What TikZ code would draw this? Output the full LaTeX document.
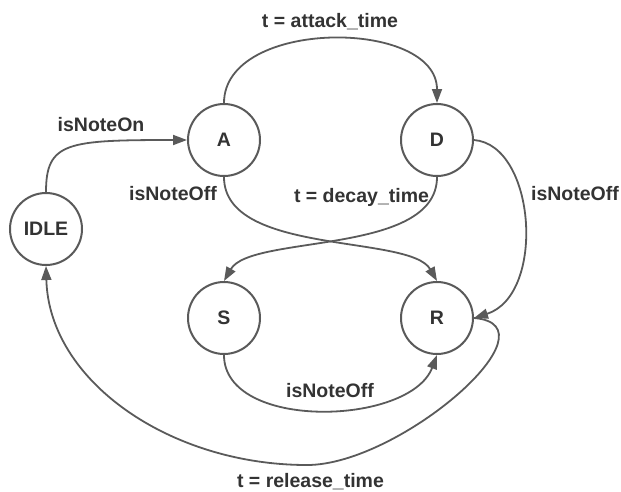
\documentclass[tikz,border=0pt]{standalone}
\usepackage{fontspec}
\setmainfont{Liberation Sans}
\usetikzlibrary{arrows.meta}
\definecolor{edgegray}{HTML}{5A5A5A}
\definecolor{textgray}{HTML}{333333}

\begin{document}
\begin{tikzpicture}[x=1pt,y=-1pt,
  state/.style={circle, draw=edgegray, line width=2pt, minimum size=72pt,
    inner sep=0pt, fill=white, text=textgray,
    font=\fontsize{19.5}{23}\selectfont\bfseries},
  trans/.style={draw=edgegray, line width=1.8pt,
    -{Triangle[length=14pt,width=10pt]}},
  lbl/.style={anchor=base, text=textgray,
    font=\fontsize{19.5}{23}\selectfont\bfseries}]
\useasboundingbox (0,0) rectangle (621,491);

% states of the envelope
\node[state] (idle) at (46,229) {IDLE};
\node[state] (a) at (224,140) {A};
\node[state] (d) at (437,140) {D};
\node[state] (s) at (224,318) {S};
\node[state] (r) at (437,318) {R};
\coordinate (bottom) at (307,465);

% transitions
\draw[trans] (idle.north) .. controls +(0,-50) and +(-120,0) .. (a.west);
\draw[trans] (a.north) .. controls +(0,-85) and +(0,-85) .. (d.north);
\draw[trans] (a.south) .. controls +(0,79) and +(-27,-47) .. (r.north);
\draw[trans] (d.south) .. controls +(0,79) and +(27,-47) .. (s.north);
\draw[trans] (d.east) .. controls +(62,5) and +(72,-23) .. (r.east);
\draw[trans] (s.south) .. controls +(0,76) and +(-27,71) .. (r.south);
\draw[trans] (r.east) .. controls +(87,7) and +(93,0) .. (bottom)
  .. controls +(-137,0) and +(3,115) .. (idle.south);

% transition labels
\node[lbl] (lon) at (101,131) {isNoteOn};
\node[lbl] (latt) at (330,27) {t = attack\_time};
\node[lbl] (loffa) at (173,200) {isNoteOff};
\node[lbl] (ldec) at (361.5,202) {t = decay\_time};
\node[lbl] (loffd) at (575,200) {isNoteOff};
\node[lbl] (loffs) at (330,397) {isNoteOff};
\node[lbl] (lrel) at (310.5,487) {t = release\_time};
\end{tikzpicture}
\end{document}
